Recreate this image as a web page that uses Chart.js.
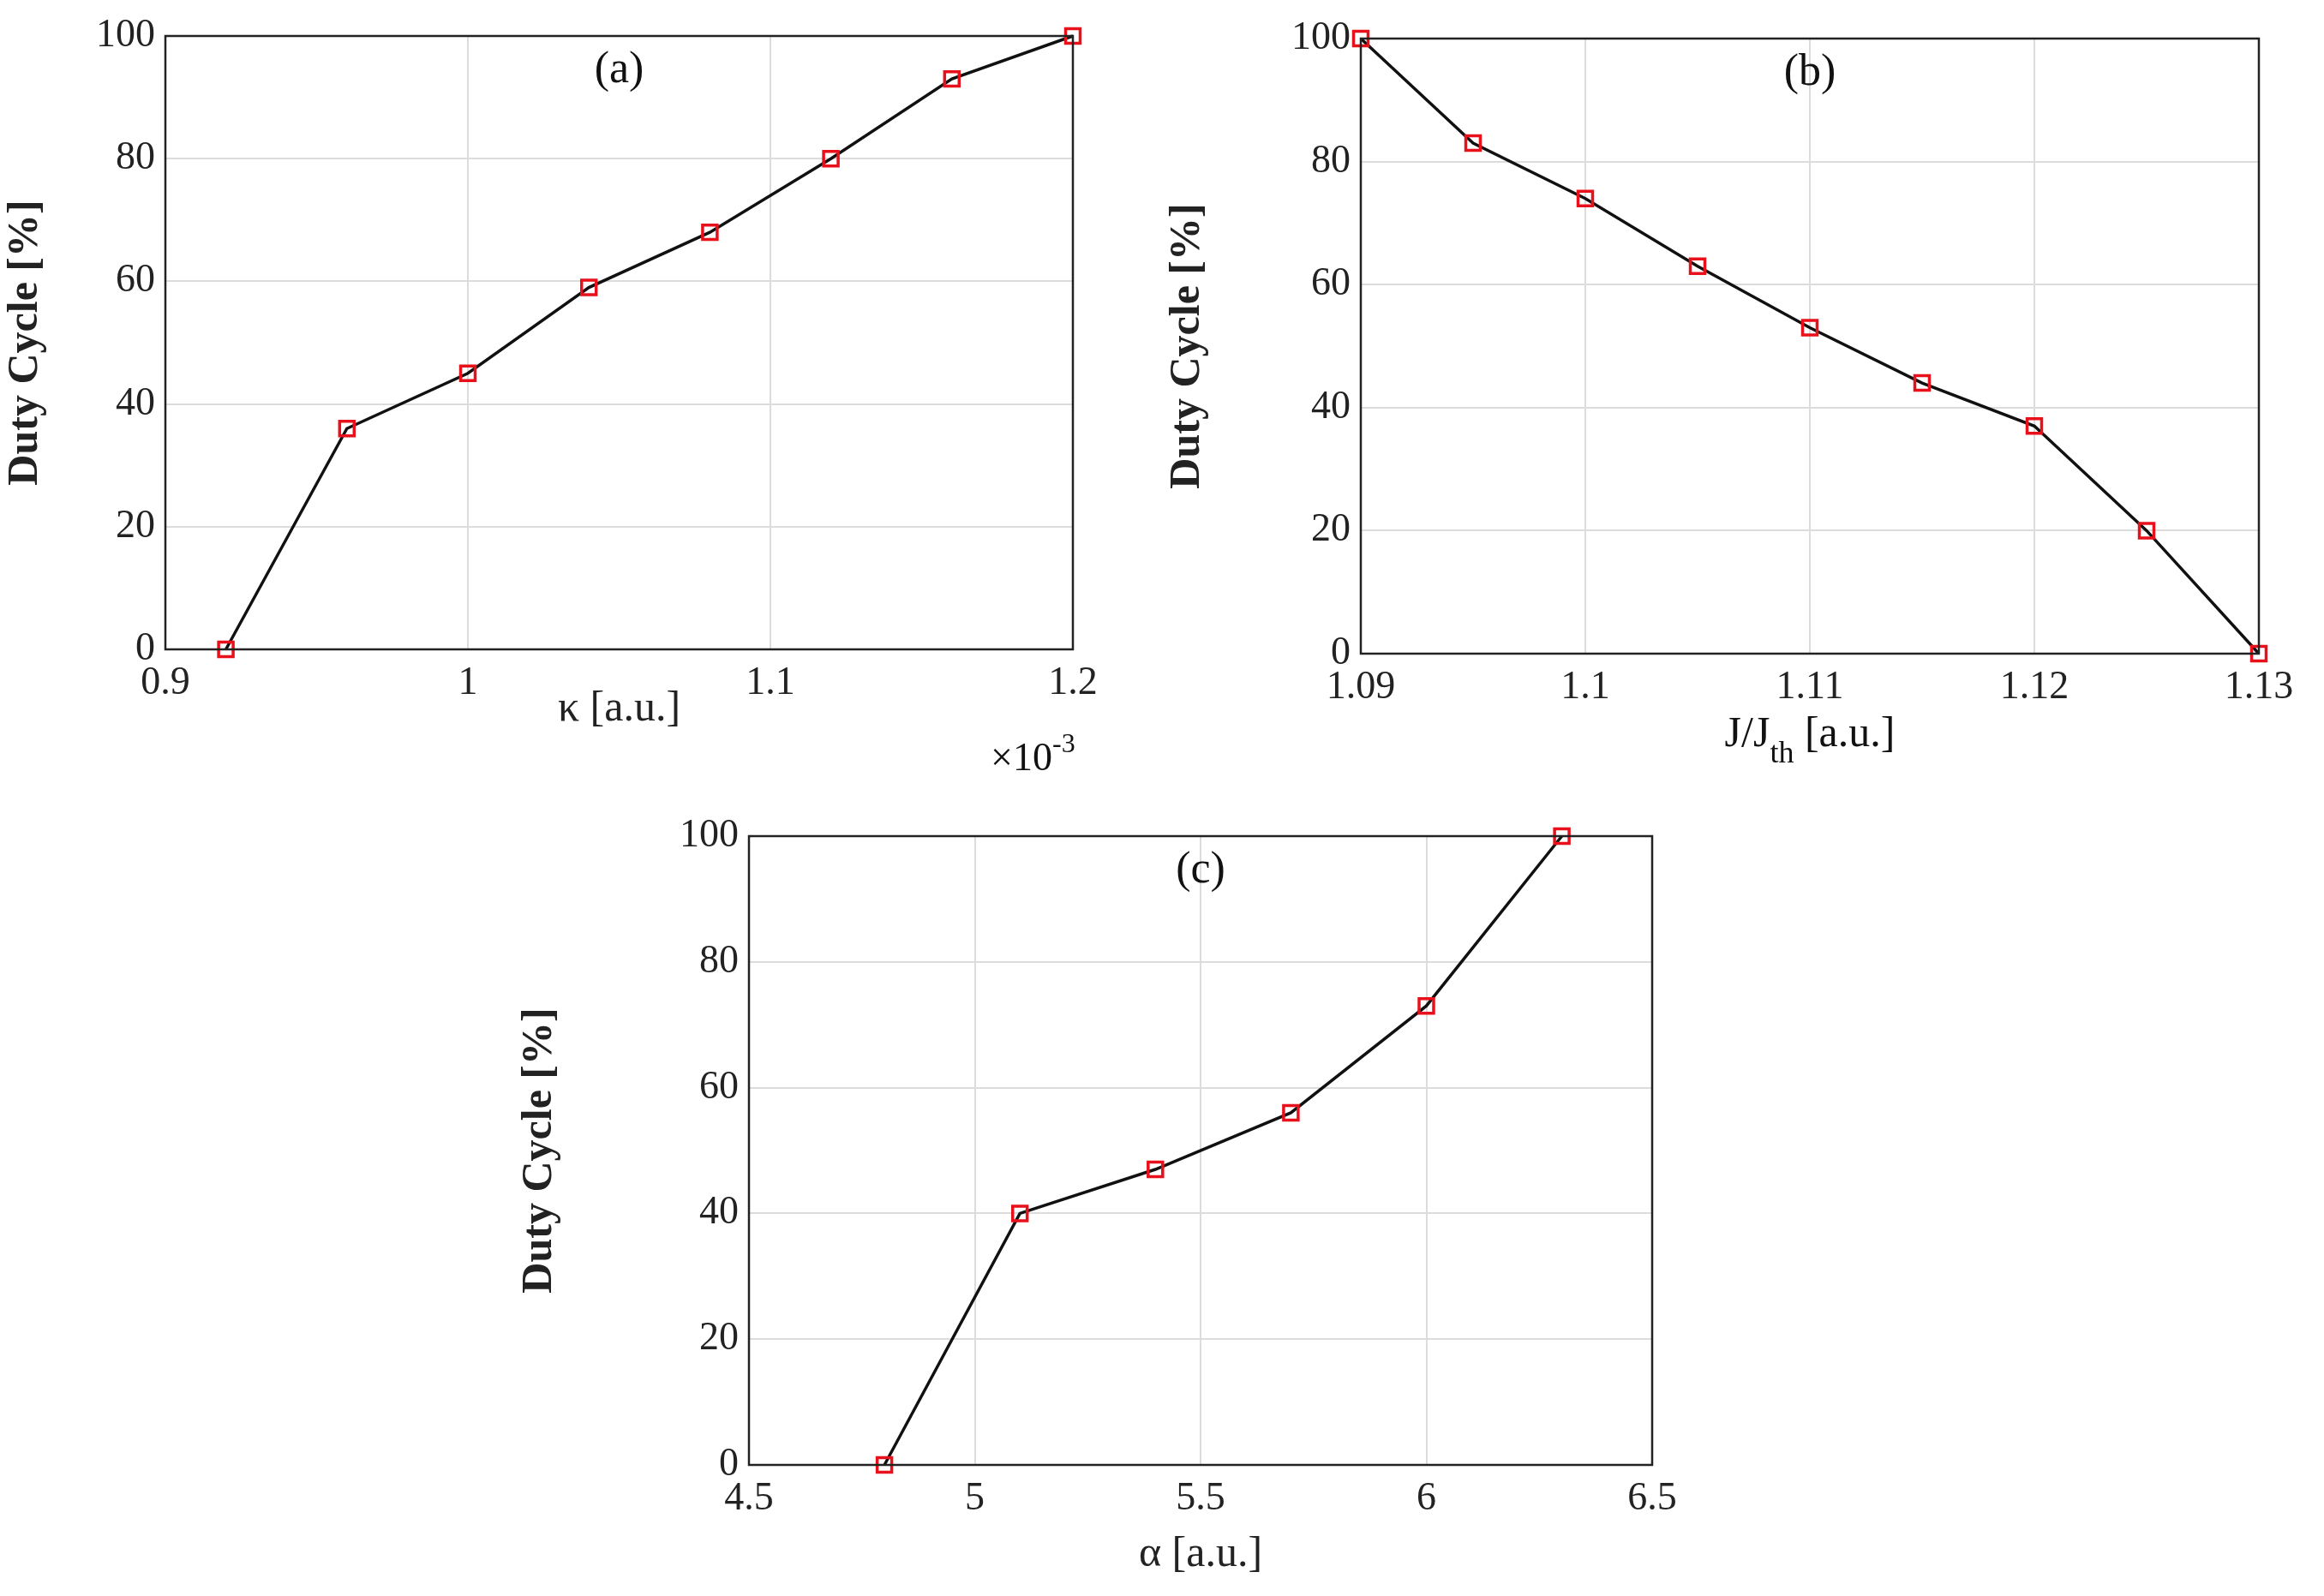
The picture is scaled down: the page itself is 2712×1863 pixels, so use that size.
<!DOCTYPE html>
<html lang="en">
  <head>
    <meta charset="UTF-8" />
    <title>Duty Cycle</title>
    <script src="https://cdn.jsdelivr.net/npm/chart.js"></script>
    <style>
      body { margin: 0; background: #fff; width: 2712px; height: 1863px; position: relative; overflow: hidden; }
      .box { position: absolute; }
    </style>
  </head>
  <body>
    <div class="box" style="left:0;top:0;width:1300px;height:900px"><canvas id="chartA"></canvas></div>
    <div class="box" style="left:1356px;top:0;width:1356px;height:900px"><canvas id="chartB"></canvas></div>
    <div class="box" style="left:600px;top:931px;width:1400px;height:932px"><canvas id="chartC"></canvas></div>

    <script>
      // (a) kappa in units of 1e-3
      const kappa = [0.92, 0.96, 1.0, 1.04, 1.08, 1.12, 1.16, 1.2];
      const dutyA = [0, 36, 45, 59, 68, 80, 93, 100];
      // (b) J/Jth
      const jRatio = [1.09, 1.095, 1.1, 1.105, 1.11, 1.115, 1.12, 1.125, 1.13];
      const dutyB = [100, 83, 74, 63, 53, 44, 37, 20, 0];
      // (c) alpha
      const alpha = [4.8, 5.1, 5.4, 5.7, 6.0, 6.3];
      const dutyC = [0, 40, 47, 56, 73, 100];

      const serif = "'Liberation Serif', 'DejaVu Serif', serif";

      const framePlugin = {
        id: "frame",
        afterDraw(chart, args, opts) {
          const { ctx, chartArea: a } = chart;
          ctx.save();
          ctx.strokeStyle = "#222";
          ctx.lineWidth = 2.5;
          ctx.strokeRect(a.left, a.top, a.right - a.left, a.bottom - a.top);
          ctx.fillStyle = "#111";
          ctx.font = "52px " + serif;
          ctx.textAlign = "center";
          ctx.textBaseline = "top";
          ctx.fillText(opts.label, (a.left + a.right) / 2, a.top + 14);
          if (opts.exponent) {
            ctx.font = "46px " + serif;
            ctx.textAlign = "right";
            ctx.fillText("\u00d710", a.right - 24, a.bottom + 106);
            ctx.font = "32px " + serif;
            ctx.textAlign = "left";
            ctx.fillText("-3", a.right - 24, a.bottom + 96);
          }
          if (opts.jtitle) {
            const cx = (a.left + a.right) / 2;
            const y = a.bottom + 70;
            const p1 = "J/J", p2 = "th", p3 = " [a.u.]";
            ctx.textAlign = "left";
            ctx.font = "50px " + serif;
            const w1 = ctx.measureText(p1).width, w3 = ctx.measureText(p3).width;
            ctx.font = "36px " + serif;
            const w2 = ctx.measureText(p2).width;
            const x = cx - (w1 + w2 + w3) / 2;
            ctx.font = "50px " + serif;
            ctx.fillText(p1, x, y);
            ctx.font = "36px " + serif;
            ctx.fillText(p2, x + w1, y + 30);
            ctx.font = "50px " + serif;
            ctx.fillText(p3, x + w1 + w2, y);
          }
          ctx.restore();
        },
      };

      function makeChart(id, xs, ys, cfg) {
        const pts = xs.map((x, i) => ({ x: x, y: ys[i] }));
        return new Chart(document.getElementById(id), {
          type: "line",
          data: {
            datasets: [{
              data: pts,
              borderColor: "#111",
              borderWidth: 3.5,
              pointStyle: "rect",
              pointRadius: 12,
              pointBorderColor: "#e8101a",
              pointBackgroundColor: "rgba(0,0,0,0)",
              pointBorderWidth: 3.5,
              tension: 0,
              clip: false,
            }],
          },
          plugins: [framePlugin],
          options: {
            responsive: true,
            maintainAspectRatio: false,
            animation: false,
            layout: { padding: { top: cfg.top, right: cfg.right, left: 0, bottom: cfg.bottom } },
            plugins: {
              legend: { display: false },
              tooltip: { enabled: false },
              frame: { label: cfg.label, exponent: cfg.exponent, jtitle: cfg.jtitle },
            },
            scales: {
              x: {
                type: "linear",
                min: cfg.xmin,
                max: cfg.xmax,
                afterFit: (s) => { s.height = cfg.xh; },
                ticks: {
                  stepSize: cfg.xstep,
                  color: "#222",
                  font: { family: serif, size: 46 },
                  padding: 12,
                  maxRotation: 0,
                  callback: (v) => String(+v.toFixed(4)),
                },
                grid: { color: "#dcdcdc", lineWidth: 2, drawTicks: false },
                border: { display: false },
                title: { display: !!cfg.xtitle, text: cfg.xtitle, color: "#222", font: { family: serif, size: 50 }, padding: 0 },
              },
              y: {
                min: 0,
                max: 100,
                afterFit: (s) => { s.width = cfg.yw; },
                ticks: { stepSize: 20, color: "#222", font: { family: serif, size: 46 }, padding: 12 },
                grid: { color: "#dcdcdc", lineWidth: 2, drawTicks: false },
                border: { display: false },
                title: { display: true, text: "Duty Cycle [%]", color: "#222", font: { family: serif, size: 50, weight: "bold" }, padding: 0 },
              },
            },
          },
        });
      }

      makeChart("chartA", kappa, dutyA, {
        top: 42, right: 48, bottom: 42, xh: 100, yw: 193, xmin: 0.9, xmax: 1.2, xstep: 0.1,
        label: "(a)", exponent: true, xtitle: "\u03ba [a.u.]",
      });
      makeChart("chartB", jRatio, dutyB, {
        top: 45, right: 76, bottom: 0, xh: 137, yw: 232, xmin: 1.09, xmax: 1.13, xstep: 0.01,
        label: "(b)", jtitle: true, xtitle: "",
      });
      makeChart("chartC", alpha, dutyC, {
        top: 45, right: 72, bottom: 18, xh: 135, yw: 274, xmin: 4.5, xmax: 6.5, xstep: 0.5,
        label: "(c)", xtitle: "\u03b1 [a.u.]",
      });
    </script>
  </body>
</html>
